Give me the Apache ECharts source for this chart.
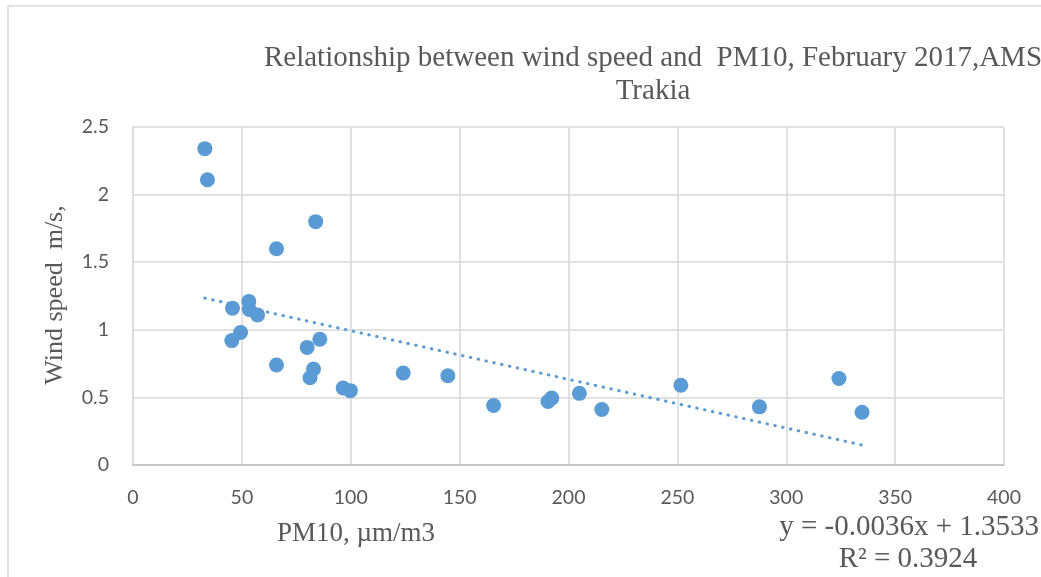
<!DOCTYPE html>
<html>
<head>
<meta charset="utf-8">
<script src="https://cdn.jsdelivr.net/npm/echarts@6/dist/echarts.min.js"></script>
<style>
  html, body { margin: 0; padding: 0; background: #fff; }
  #chart { width: 1041px; height: 577px; }
</style>
</head>
<body>
<div id="chart"></div>
<script>
// PM10 (µm/m3) and wind speed (m/s), one point per day, February 2017
var pm10 = [33, 34.2, 83.9, 65.9, 53.2, 45.7, 53.4, 57.2, 49.4, 45.4, 85.8, 80.0, 65.9, 82.9,
            81.3, 96.5, 99.8, 124.1, 144.6, 165.6, 190.6, 192.3, 205, 215.3, 251.6, 287.7, 324.2, 334.8];
var windSpeed = [2.34, 2.11, 1.80, 1.60, 1.21, 1.16, 1.15, 1.11, 0.98, 0.92, 0.93, 0.87, 0.74, 0.71,
                 0.645, 0.57, 0.55, 0.68, 0.66, 0.44, 0.47, 0.495, 0.53, 0.41, 0.59, 0.43, 0.64, 0.39];
// linear trend as printed on the chart
var slope = -0.0036;
var intercept = 1.3533;
var rSquared = 0.3924;

var points = pm10.map(function (x, i) { return [x, windSpeed[i]]; });
var xMin = Math.min.apply(null, pm10);
var xMax = Math.max.apply(null, pm10);
var trend = [[xMin, slope * xMin + intercept], [xMax, slope * xMax + intercept]];

var serif = '"Liberation Serif", "Times New Roman", serif';
var sans = 'Lato, "Open Sans", sans-serif';
var textGrey = '#595959';

var myChart = echarts.init(document.getElementById('chart'));
var option = {
  backgroundColor: '#fff',
  animation: false,
  title: {
    text: 'Relationship between wind speed and  PM10, February 2017,AMS\nTrakia',
    left: 648,
    top: 37,
    textAlign: 'center',
    textStyle: {
      fontFamily: serif,
      fontWeight: 'normal',
      fontSize: 29,
      lineHeight: 33,
      color: textGrey
    }
  },
  grid: { left: 133, top: 127, width: 871, height: 338 },
  xAxis: {
    type: 'value',
    min: 0, max: 400, interval: 50,
    axisLine: { lineStyle: { color: '#bfbfbf', width: 1.5 } },
    axisTick: { show: false },
    splitLine: { lineStyle: { color: '#d9d9d9', width: 1.5 } },
    axisLabel: { fontFamily: sans, fontSize: 19.5, color: textGrey, margin: 23 }
  },
  yAxis: {
    type: 'value',
    min: 0, max: 2.5, interval: 0.5,
    axisLine: { show: true, lineStyle: { color: '#d9d9d9', width: 1.5 } },
    axisTick: { show: false },
    splitLine: { lineStyle: { color: '#d9d9d9', width: 1.5 } },
    axisLabel: { fontFamily: sans, fontSize: 19.5, color: textGrey, margin: 24 }
  },
  graphic: [
    { type: 'rect', silent: true, z: -1,
      shape: { x: 8, y: 6, width: 1080, height: 620 },
      style: { fill: 'none', stroke: '#d9d9d9', lineWidth: 1.5 } },
    { type: 'text', x: 55, y: 295, rotation: Math.PI / 2,
      style: { text: 'Wind speed  m/s,', font: '26px ' + serif, fill: textGrey,
               align: 'center', verticalAlign: 'middle' } },
    { type: 'text', x: 277, y: 534,
      style: { text: 'PM10, µm/m3', font: '27px ' + serif, fill: textGrey,
               verticalAlign: 'middle' } },
    { type: 'text', x: 1039, y: 527,
      style: { text: 'y = ' + slope.toFixed(4) + 'x + ' + intercept.toFixed(4),
               font: '29px ' + serif, fill: textGrey, align: 'right', verticalAlign: 'middle' } },
    { type: 'text', x: 908, y: 559,
      style: { text: 'R² = ' + rSquared.toFixed(4),
               font: '29px ' + serif, fill: textGrey, align: 'center', verticalAlign: 'middle' } }
  ],
  series: [
    {
      type: 'scatter',
      data: points,
      symbolSize: 15,
      itemStyle: { color: '#5b9bd5', opacity: 1 },
      z: 3
    },
    {
      type: 'line',
      data: trend,
      symbol: 'none',
      lineStyle: { color: '#5b9bd5', width: 3, type: [0.5, 7.5], cap: 'round' },
      z: 2
    }
  ]
};
myChart.setOption(option);
</script>
</body>
</html>
